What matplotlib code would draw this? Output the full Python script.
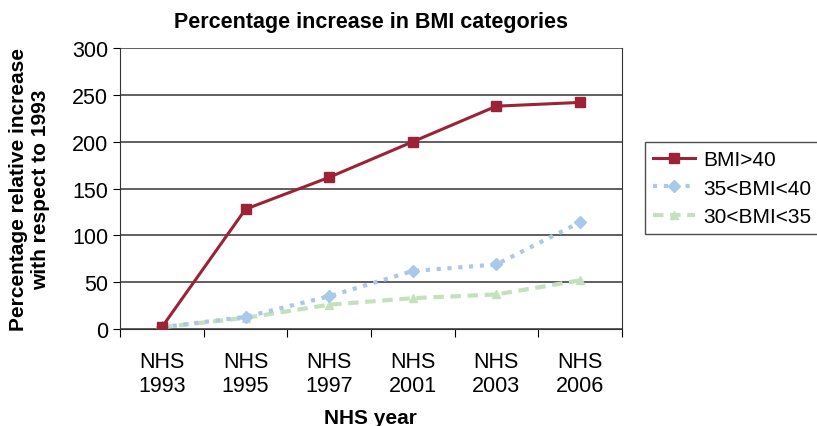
import numpy as np
import matplotlib
matplotlib.use('Agg')
import matplotlib.pyplot as plt

plt.rcParams['font.family'] = ['Liberation Sans', 'DejaVu Sans']

years = ['NHS\n1993', 'NHS\n1995', 'NHS\n1997', 'NHS\n2001', 'NHS\n2003', 'NHS\n2006']
bmi_40 = [2, 128, 162, 200, 238, 242]
bmi_35_40 = [2, 13, 35, 62, 69, 114]
bmi_30_35 = [2, 12, 26, 33, 37, 52]


def main():
    fig = plt.figure(figsize=(8.17, 4.27), dpi=100)
    ax = fig.add_axes([0.147, 0.227, 0.614, 0.658])
    x = np.arange(len(years))

    ax.plot(x, bmi_40, color='#9b2335', lw=2.2, marker='s', ms=7,
            label='BMI>40', zorder=4)
    ax.plot(x, bmi_35_40, color='#a9c8ea', lw=3, ls=(0, (1, 1.6)),
            marker='D', ms=6, label='35<BMI<40', zorder=3)
    ax.plot(x, bmi_30_35, color='#c5e0bd', lw=3, ls=(0, (2.5, 1.6)),
            marker='^', ms=6, label='30<BMI<35', zorder=2)

    ax.set_xlim(-0.5, 5.5)
    ax.set_ylim(0, 300)
    ax.set_yticks(range(0, 301, 50))
    ax.yaxis.grid(True, color='#444444', lw=1.2)
    ax.set_axisbelow(True)
    ax.set_xticks(np.arange(-0.5, 6, 1))
    ax.set_xticklabels([])
    ax.set_xticks(x, minor=True)
    ax.set_xticklabels(years, minor=True, fontsize=15.5)
    ax.tick_params(axis='x', which='minor', length=0, pad=16)
    ax.tick_params(axis='x', which='major', length=6, direction='out')
    ax.tick_params(axis='y', labelsize=15.5, length=5)
    for s in ax.spines.values():
        s.set_color('#333333')
    ax.spines['top'].set_visible(False)

    ax.set_title('Percentage increase in BMI categories', fontsize=15.5,
                 fontweight='bold', pad=15)
    ax.set_xlabel('NHS year', fontsize=15, fontweight='bold', labelpad=8)
    ax.set_ylabel('Percentage relative increase\nwith respect to 1993',
                  fontsize=15, fontweight='bold', labelpad=16)

    fig.legend(loc='upper left', bbox_to_anchor=(0.789, 0.665), fontsize=15,
               frameon=True, fancybox=False, edgecolor='#222222',
               borderaxespad=0, handlelength=2.0, handletextpad=0.4,
               borderpad=0.4, labelspacing=0.45)

    fig.savefig('out.png', dpi=100)


if __name__ == "__main__":
    main()
